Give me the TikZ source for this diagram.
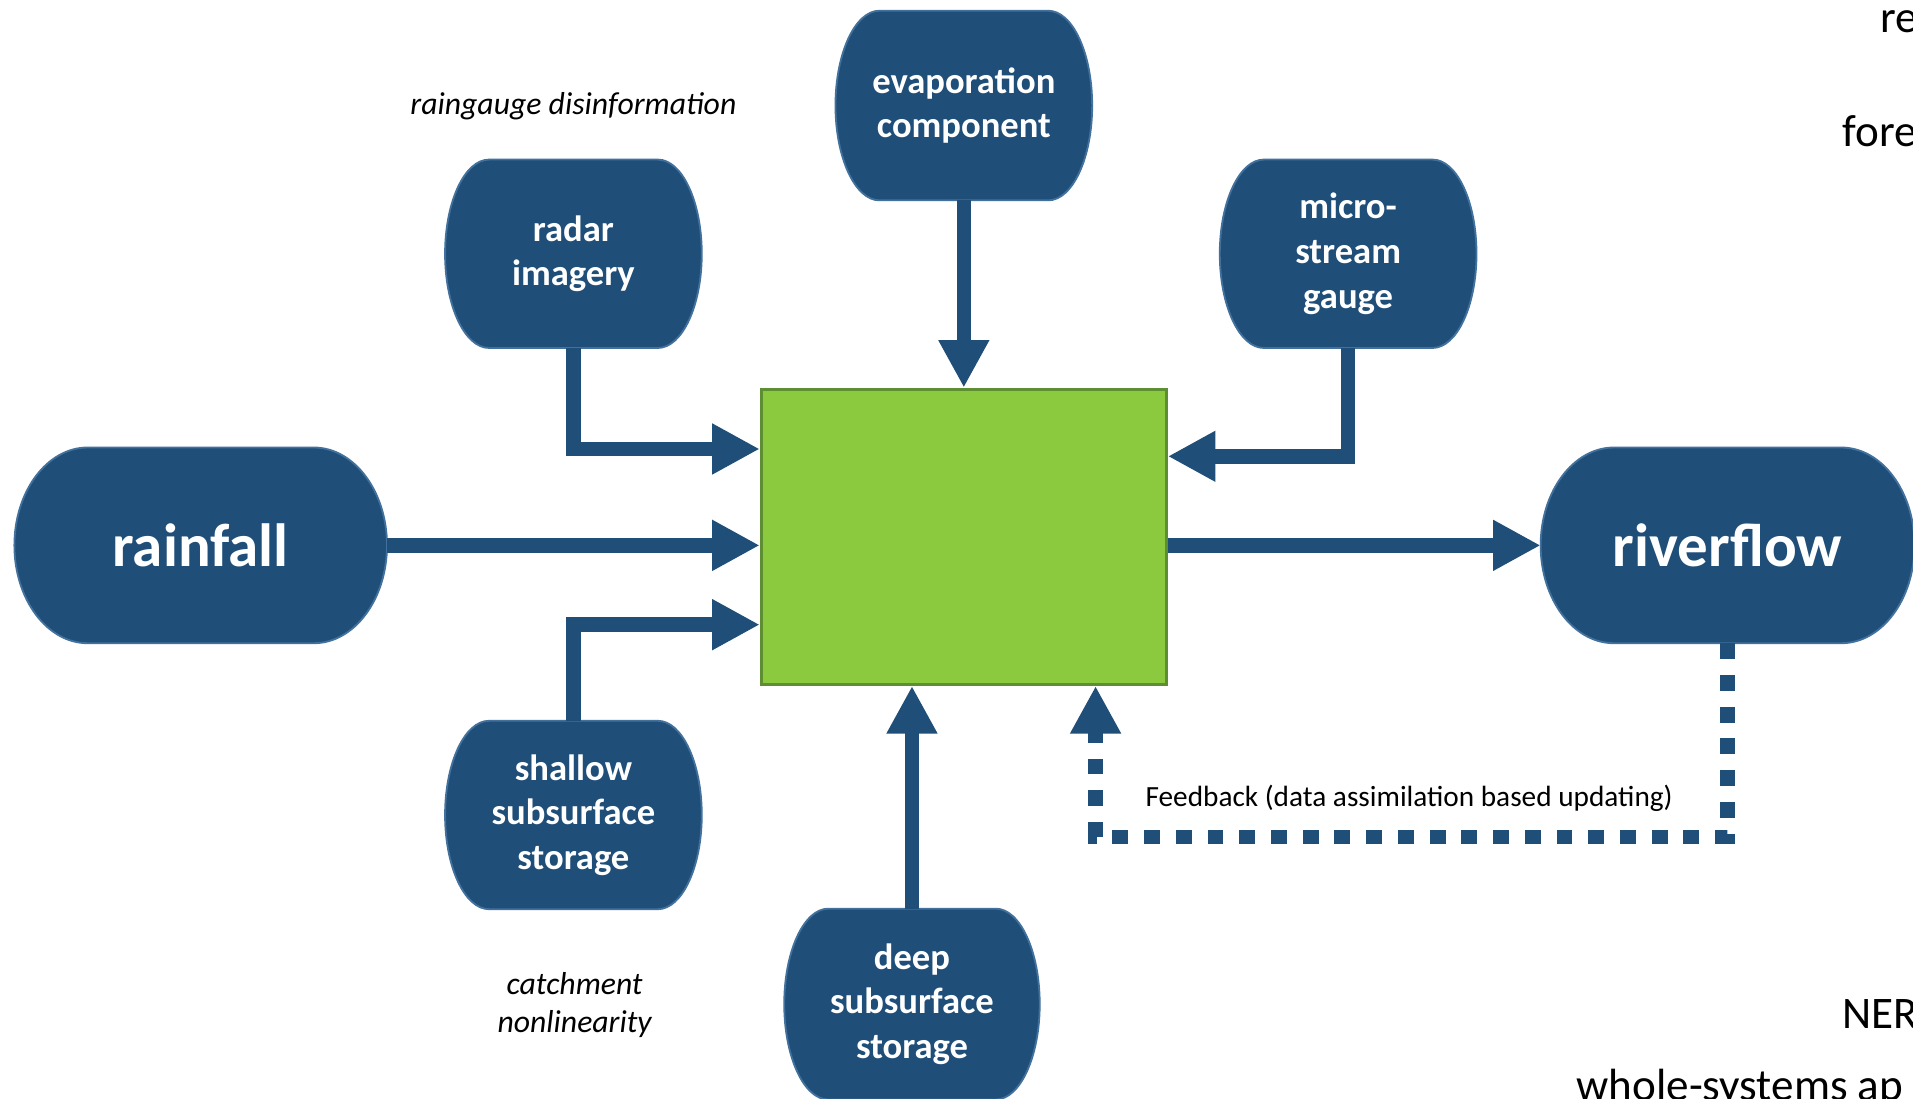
\documentclass[tikz,border=0pt]{standalone}
\usepackage{fontspec}
\setmainfont{Carlito}
\usetikzlibrary{arrows.meta,calc,backgrounds}
\definecolor{navy}{HTML}{1F4E79}
\definecolor{navyline}{HTML}{41719C}
\definecolor{leaf}{HTML}{8BC93E}
\definecolor{leafline}{HTML}{5E8E32}
\begin{document}
\begin{tikzpicture}[x=1pt,y=-1pt,
  blob/.style={rectangle, inner sep=0pt, text=white, align=center, font=\bfseries\fontsize{30}{36.5}\selectfont},
  bigblob/.style={blob, font=\bfseries\fontsize{50}{60}\selectfont},
  fat/.style={draw=navy, line width=12pt, line join=miter, -{Triangle[width=39pt,length=39pt]}},
  fbline/.style={fat, dash pattern=on 13pt off 13pt},
  note/.style={font=\itshape\fontsize{26}{31}\selectfont, align=center},
  edgetext/.style={font=\fontsize{37}{44}\selectfont, anchor=base west, inner sep=0pt}
]
\useasboundingbox (0,0) rectangle (1568,900);

% nodes
\node[bigblob, minimum width=305pt, minimum height=160pt] (rain) at (164.5,447) {rainfall};
\node[bigblob, minimum width=306pt, minimum height=160pt] (river) at (1416,447) {riverflow};
\node[blob, minimum width=210pt, minimum height=154pt] (radar) at (470,208) {radar\\imagery};
\node[blob, minimum width=210pt, minimum height=155pt] (evap) at (790,86.5) {evaporation\\component};
\node[blob, minimum width=210pt, minimum height=154pt] (micro) at (1105,208) {micro-\\stream\\gauge};
\node[blob, minimum width=210pt, minimum height=154pt] (shallow) at (470,668) {shallow\\subsurface\\storage};
\node[blob, minimum width=209pt, minimum height=156pt] (deep) at (747.5,823) {deep\\subsurface\\storage};
\node[draw=leafline, fill=leaf, line width=2.5pt, minimum width=332pt, minimum height=242pt, inner sep=0pt] (green) at (790,440) {};

% node shapes
\begin{scope}[on background layer]
\fill[white] (0,0) rectangle (1568,900);
\foreach \nm/\rr in {rain/60pt,river/60pt,radar/36pt,evap/36pt,micro/36pt,shallow/36pt,deep/36pt}{
  \path[fill=navy, draw=navyline, line width=1.5pt]
    let \p1=(\nm.north east), \p2=(\nm.south west), \p3=($(\nm.north)-(\nm.center)$) in
    (\x2+\rr,\y1) -- (\x1-\rr,\y1)
    arc[start angle=90, end angle=-90, x radius=\rr, y radius=\y3]
    -- (\x2+\rr,\y2)
    arc[start angle=270, end angle=90, x radius=\rr, y radius=\y3] -- cycle;
}
\end{scope}

% connectors
\draw[fat] (rain.east) -- (green.west |- rain.east);
\draw[fat] (green.east |- river.west) -- (river.west);
\draw[fat] (radar.south) |- (green.west |- 0,368);
\draw[fat] (evap.south) -- (evap.south |- green.north);
\draw[fat] (micro.south) |- (green.east |- 0,374);
\draw[fat] (shallow.north) |- (green.west |- 0,512);
\draw[fat] (deep.north) -- (deep.north |- green.south);
\coordinate (fbc) at (898,686);
\draw[fbline] (river.south) |- (fbc) -- (fbc |- green.south);

% labels
\node[note] (rgd) at (470,87) {raingauge disinformation};
\node[note] (cn) at (471,824) {catchment\\nonlinearity};
\node[font=\fontsize{24}{29}\selectfont] (fbtxt) at (1155,654) {Feedback (data assimilation based updating)};
\node[edgetext] (t1) at (1541,27) {re};
\node[edgetext] (t2) at (1510,120) {fore};
\node[edgetext] (t3) at (1510,843) {NER};
\node[edgetext] (t4) at (1292,902) {whole-systems ap};
\end{tikzpicture}
\end{document}
